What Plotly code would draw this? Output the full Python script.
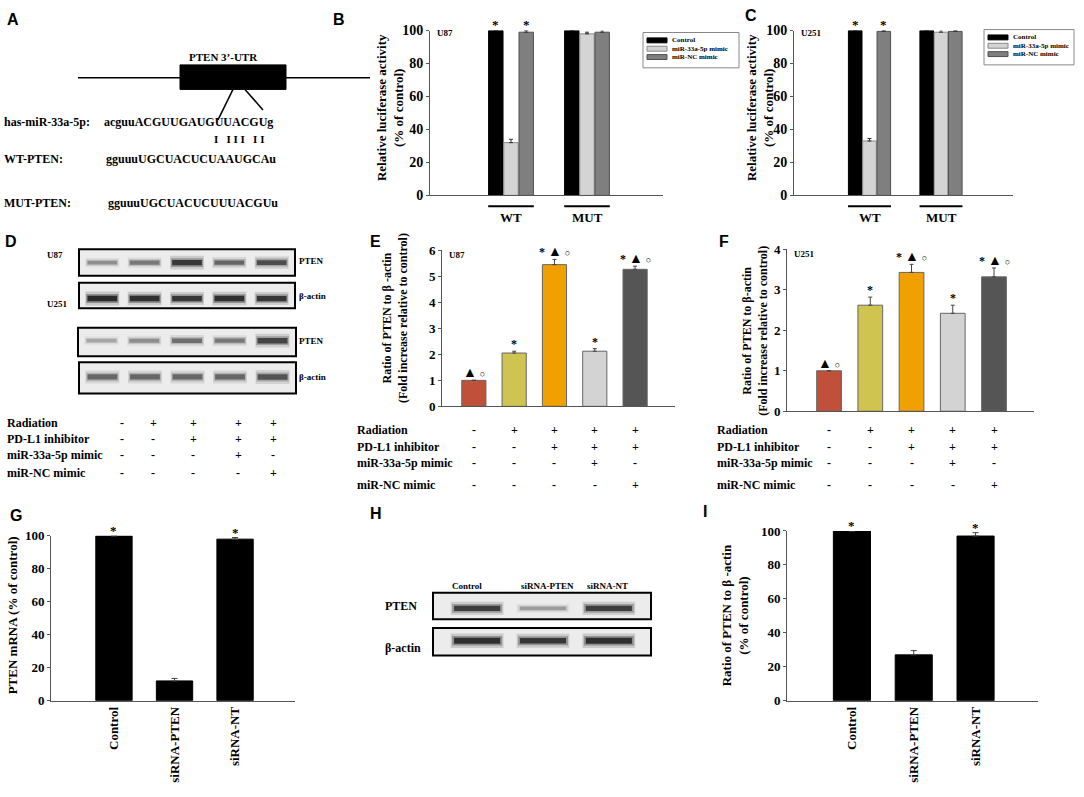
import plotly.graph_objects as go

# ---------------- data ----------------
luc_groups = ["WT", "MUT"]
luc_series = ["Control", "miR-33a-5p mimic", "miR-NC mimic"]

u87_ctrl = [100, 100]
u87_mir33 = [32, 98]
u87_nc = [99, 99]
u87_ctrl_err = [0, 0]
u87_mir33_err = [2, 1]
u87_nc_err = [1, 1.5]
u87_sig_wt = ["*", "", "*"]

u251_ctrl = [100, 100]
u251_mir33 = [33, 99]
u251_nc = [99.5, 99.5]
u251_ctrl_err = [0, 0]
u251_mir33_err = [1.5, 1.5]
u251_nc_err = [0.5, 0.5]
u251_sig_wt = ["*", "", "*"]

table_rows = ["Radiation", "PD-L1 inhibitor", "miR-33a-5p mimic", "miR-NC mimic"]
radiation = ["-", "+", "+", "+", "+"]
pdl1 = ["-", "-", "+", "+", "+"]
mir33 = ["-", "-", "-", "+", "-"]
mirnc = ["-", "-", "-", "-", "+"]

e_vals = [1.0, 2.05, 5.45, 2.12, 5.27]
e_err = [0.0, 0.07, 0.2, 0.1, 0.12]
e_sig = ["▲○", "*", "*▲○", "*", "*▲○"]

f_vals = [1.0, 2.62, 3.43, 2.42, 3.32]
f_err = [0.0, 0.2, 0.2, 0.2, 0.22]
f_sig = ["▲○", "*", "*▲○", "*", "*▲○"]

si_groups = ["Control", "siRNA-PTEN", "siRNA-NT"]
g_vals = [100, 12, 98]
g_err = [0, 1.5, 1]
g_sig = ["*", "", "*"]
i_vals = [100, 27, 97]
i_err = [0, 2.5, 2]
i_sig = ["*", "", "*"]

# band darkness (0..1) read from the blots
u87_pten = [0.35, 0.45, 0.85, 0.55, 0.7]
u87_actin = [0.95, 0.9, 0.85, 0.9, 0.85]
u251_pten = [0.25, 0.35, 0.5, 0.45, 0.75]
u251_actin = [0.55, 0.55, 0.55, 0.55, 0.65]
h_pten = [0.8, 0.3, 0.8]
h_actin = [0.9, 0.85, 0.9]

# ---------------- helpers ----------------
W, H = 1084, 797
SERIF = "Liberation Serif"
SANS = "Liberation Sans"
AX = "#555555"


def px(x):
    return x / W


def py(y):
    return 1 - y / H


def ax_ids(n):
    s = "" if n == 1 else str(n)
    return "x" + s, "y" + s, "xaxis" + s, "yaxis" + s


def bfont(size, family=SERIF):
    return dict(family=family, size=size, color="black", weight="bold")


fig = go.Figure()
layout = {}
annotations = []
shapes = []


def text(x, y, t, size=12, xanchor="left", family=SERIF, **kw):
    annotations.append(dict(
        x=px(x), y=py(y), xref="paper", yref="paper", text=t,
        showarrow=False, xanchor=xanchor, yanchor="middle", font=bfont(size, family), **kw))


def box(x0, y0, x1, y1, fill, line="black", width=1, layer="above"):
    shapes.append(dict(type="rect", xref="paper", yref="paper", x0=px(x0), x1=px(x1),
                       y0=py(y1), y1=py(y0), fillcolor=fill, layer=layer,
                       line=dict(color=line, width=width)))


def chart_axes(n, x0, x1, y0, y1, xr, yr, dtick, tsize=14):
    xs, ys, xa, ya = ax_ids(n)
    layout[xa] = dict(domain=[px(x0), px(x1)], range=xr, anchor=ys,
                      showline=True, linecolor=AX, linewidth=1, ticks="",
                      showticklabels=False, showgrid=False, zeroline=False)
    layout[ya] = dict(domain=[py(y1), py(y0)], range=yr, anchor=xs,
                      showline=True, linecolor=AX, linewidth=1, ticks="outside",
                      ticklen=3, tickcolor=AX, dtick=dtick, showgrid=False, zeroline=False,
                      tickfont=bfont(tsize))


def sig_text(s, big=14, small=9):
    parts = []
    for ch in s:
        if ch == "▲":
            parts.append(f"<span style='font-size:{big}px'>▲</span>")
        elif ch == "○":
            parts.append(f"<span style='font-size:{small}px'>○</span>")
        else:
            parts.append(ch)
    return " ".join(parts)


# ---------------- panel letters ----------------
for letter, (lx, ly) in {"A": (13, 13), "B": (339, 13), "C": (751, 9), "D": (11, 239),
                         "E": (375, 239), "F": (724, 239), "G": (16, 518),
                         "H": (376, 516), "I": (705, 514)}.items():
    text(lx, ly, letter, size=16, xanchor="center", family=SANS)

# ---------------- panel A (diagram) ----------------
shapes.append(dict(type="line", xref="paper", yref="paper", x0=px(78), x1=px(370),
                   y0=py(72), y1=py(72), line=dict(color="black", width=1.5)))
box(180, 59, 286, 84, "black")
shapes.append(dict(type="line", xref="paper", yref="paper", x0=px(233), x1=px(218),
                   y0=py(84), y1=py(115), line=dict(color="black", width=1.5)))
shapes.append(dict(type="line", xref="paper", yref="paper", x0=px(245), x1=px(263),
                   y0=py(84), y1=py(105), line=dict(color="black", width=1.5)))
text(223, 51, "PTEN 3’-UTR", size=11, xanchor="center")
text(2, 117, "has-miR-33a-5p:", size=12)
text(102, 117, "acguuACGUUGAUGUUACGUg", size=12)
text(239, 135, "I   I I I   I I", size=11, xanchor="center")
text(2, 155, "WT-PTEN:", size=12)
text(104, 155, "gguuuUGCUACUCUAAUGCAu", size=12)
text(2, 200, "MUT-PTEN:", size=12)
text(106, 200, "gguuuUGCUACUCUUUACGUu", size=12)

# ---------------- panels B and C (luciferase) ----------------
luc_colors = ["black", "#d4d4d4", "#7f7f7f"]
luc_lines = ["black", "#8a8a8a", "#505050"]
offsets = [-0.2, 0, 0.2]
group_pos = [1, 2]

luc_panels = [
    (1, [u87_ctrl, u87_mir33, u87_nc], [u87_ctrl_err, u87_mir33_err, u87_nc_err],
     u87_sig_wt, (430, 663), [-0.066, 3.0], "U87", 390, (643, 26, 739, 62)),
    (2, [u251_ctrl, u251_mir33, u251_nc], [u251_ctrl_err, u251_mir33_err, u251_nc_err],
     u251_sig_wt, (794, 1013), [-0.056, 3.007], "U251", 760, (984, 23, 1074, 59)),
]
for n, vals, errs, sig_wt, (ax0, ax1), xr, cell, title_x, (lx0, ly0, lx1, ly1) in luc_panels:
    xa, ya, _, _ = ax_ids(n)
    chart_axes(n, ax0, ax1, 24, 192, xr, [0, 100], 20)
    for k, name in enumerate(luc_series):
        xs = [g + offsets[k] for g in group_pos]
        fig.add_trace(go.Bar(
            x=xs, y=vals[k], width=0.19, name=name, showlegend=False, xaxis=xa, yaxis=ya,
            marker=dict(color=luc_colors[k], line=dict(color=luc_lines[k], width=1)),
            error_y=dict(type="data", array=errs[k], arrayminus=[0] * len(xs), symmetric=False,
                         color="#333", thickness=1, width=2),
            cliponaxis=False))
        if sig_wt[k]:
            annotations.append(dict(x=xs[0], y=vals[k][0] + errs[k][0], xref=xa, yref=ya,
                                    text=sig_wt[k], showarrow=False, yanchor="bottom", yshift=-3,
                                    font=bfont(13)))
    for g, lab in zip(group_pos, luc_groups):
        shapes.append(dict(type="line", xref=xa, yref="paper", x0=g - 0.3, x1=g + 0.3,
                           y0=py(203), y1=py(203), line=dict(color="black", width=2)))
        annotations.append(dict(x=g, y=py(215), xref=xa, yref="paper", text=lab,
                                showarrow=False, yanchor="middle", font=bfont(13)))
    text(ax0 + 5, 27, cell, size=9)
    text(title_x, 103, "Relative luciferase activity<br>(% of control)", size=13,
         xanchor="center", textangle=-90)
    # legend box drawn by hand (the native one cannot be made this compact)
    box(lx0, ly0, lx1, ly1, "white", line="#888")
    for k, name in enumerate(luc_series):
        ry = ly0 + 8 + 8.5 * k
        box(lx0 + 4, ry - 2.5, lx0 + 24, ry + 2.5, luc_colors[k], line=luc_lines[k])
        text(lx0 + 27, ry, name, size=7)

# ---------------- panels E and F (PTEN / beta-actin ratios) ----------------
ef_colors = ["#c0503a", "#cfc44f", "#f0a000", "#d3d3d3", "#555555"]
ef_panels = [
    (3, e_vals, e_err, e_sig, (442, 675), (248, 407), [-0.79, 4.99], [0, 6], "U87",
     395, 317, "Ratio of PTEN to β -actin", 355),
    (4, f_vals, f_err, f_sig, (787, 1034), (247, 412), [-1.02, 4.97], [0, 4], "U251",
     755, 330, "Ratio of PTEN to β-actin", 715),
]
for n, vals, errs, sig, (ax0, ax1), (ay0, ay1), xr, yr, cell, tx, ty, t1, lab_x in ef_panels:
    xa, ya, _, _ = ax_ids(n)
    chart_axes(n, ax0, ax1, ay0, ay1, xr, yr, 1, tsize=13)
    xs = list(range(len(vals)))
    fig.add_trace(go.Bar(
        x=xs, y=vals, width=0.6, showlegend=False, xaxis=xa, yaxis=ya,
        marker=dict(color=ef_colors, line=dict(color="#666", width=1)),
        error_y=dict(type="data", array=errs, arrayminus=[0] * len(xs), symmetric=False,
                     color="#444", thickness=1, width=2),
        cliponaxis=False))
    for x, v, e, s in zip(xs, vals, errs, sig):
        annotations.append(dict(x=x, y=v + e, xref=xa, yref=ya, text=sig_text(s),
                                showarrow=False, yanchor="bottom", yshift=-2, font=bfont(12)))
    text(ax0 + 5, ay0 + 5, cell, size=9)
    text(tx, ty, f"{t1}<br>(Fold increase relative to control)", size=12,
         xanchor="center", textangle=-90)
    for row_y, row_name, signs in zip([431, 448, 465, 487], table_rows,
                                      [radiation, pdl1, mir33, mirnc]):
        text(lab_x, row_y, row_name, size=12)
        for x, s in zip(xs, signs):
            annotations.append(dict(x=x, y=py(row_y), xref=xa, yref="paper", text=s,
                                    showarrow=False, yanchor="middle", font=bfont(12)))

# ---------------- panels G and I (siRNA) ----------------
si_panels = [
    (5, g_vals, g_err, g_sig, (51, 295), (539, 707), [-1.04, 2.99], 12, 620,
     "PTEN mRNA (% of control)"),
    (6, i_vals, i_err, i_sig, (787, 1038), (534, 707), [-1.05, 3.01], 735, 620,
     "Ratio of PTEN to β -actin<br>(% of control)"),
]
for n, vals, errs, sig, (ax0, ax1), (ay0, ay1), xr, tx, ty, title in si_panels:
    xa, ya, xname, _ = ax_ids(n)
    chart_axes(n, ax0, ax1, ay0, ay1, xr, [0, 100], 20, tsize=13)
    xs = list(range(len(vals)))
    layout[xname].update(showticklabels=True, tickvals=xs, ticktext=si_groups, tickangle=-90,
                         tickfont=bfont(13))
    fig.add_trace(go.Bar(
        x=xs, y=vals, width=0.6, showlegend=False, xaxis=xa, yaxis=ya,
        marker=dict(color="black", line=dict(color="black", width=1)),
        error_y=dict(type="data", array=errs, arrayminus=[0] * len(xs), symmetric=False,
                     color="#444", thickness=1, width=3),
        cliponaxis=False))
    for x, v, e, s in zip(xs, vals, errs, sig):
        if s:
            annotations.append(dict(x=x, y=v + e, xref=xa, yref=ya, text=s, showarrow=False,
                                    yanchor="bottom", yshift=-4, font=bfont(13)))
    text(tx, ty, title, size=13, xanchor="center", textangle=-90)

# ---------------- western blots (D and H) ----------------
blots = [
    (7, u87_pten, (79, 295), (247, 274), 0.5),
    (8, u87_actin, (79, 295), (281, 307), 0.38),
    (9, u251_pten, (78, 296), (327, 356), 0.55),
    (10, u251_actin, (79, 296), (362, 394), 0.53),
    (11, h_pten, (433, 651), (597, 624), 0.41),
    (12, h_actin, (433, 651), (633, 661), 0.54),
]
for n, dark, (bx0, bx1), (by0, by1), yc in blots:
    xa, ya, xname, yname = ax_ids(n)
    lanes = list(range(len(dark)))
    xr = [-0.55, 4.55] if len(dark) == 5 else [-0.67, 2.64]
    layout[xname] = dict(domain=[px(bx0), px(bx1)], range=xr, visible=False, anchor=ya)
    layout[yname] = dict(domain=[py(by1), py(by0)], range=[0, 1], visible=False, anchor=xa)
    shapes.append(dict(type="rect", xref=xa + " domain", yref=ya + " domain",
                       x0=0, x1=1, y0=0, y1=1, fillcolor="#ececec",
                       line=dict(color="black", width=2), layer="below"))
    # soft halo + core for each band
    for scale, alpha, wid in [(2.0, 0.18, 0.8), (1.3, 0.35, 0.76), (0.8, 0.9, 0.7)]:
        thick = [(0.12 + 0.16 * d) * scale for d in dark]
        fig.add_trace(go.Bar(
            x=lanes, y=thick, base=[yc - t / 2 for t in thick], width=wid,
            showlegend=False, xaxis=xa, yaxis=ya, hoverinfo="skip",
            marker=dict(color=[f"rgba(25,25,25,{d * alpha:.2f})" for d in dark],
                        line=dict(width=0))))

text(45, 253, "U87", size=9)
text(297, 259, "PTEN", size=9)
text(297, 295, "β-actin", size=9)
text(45, 303, "U251", size=9)
text(297, 340, "PTEN", size=9)
text(297, 377, "β-actin", size=9)
d_sign_px = [122, 153, 193, 238, 273]
for row_y, row_name, signs in zip([424, 440, 457, 475], table_rows,
                                  [radiation, pdl1, mir33, mirnc]):
    text(5, row_y, row_name, size=12)
    for x, s in zip(d_sign_px, signs):
        text(x, row_y, s, size=12, xanchor="center")

for x, lab in zip([467, 547, 607], si_groups):
    text(x, 590, lab, size=9, xanchor="center")
text(383, 610, "PTEN", size=12)
text(383, 653, "β-actin", size=12)

fig.update_layout(
    width=W, height=H, margin=dict(l=0, r=0, t=0, b=0),
    paper_bgcolor="white", plot_bgcolor="white", barmode="overlay",
    annotations=annotations, shapes=shapes, **layout)

fig.write_html("out.html", config={"displayModeBar": False},
               post_script="document.body.style.margin='0';")
